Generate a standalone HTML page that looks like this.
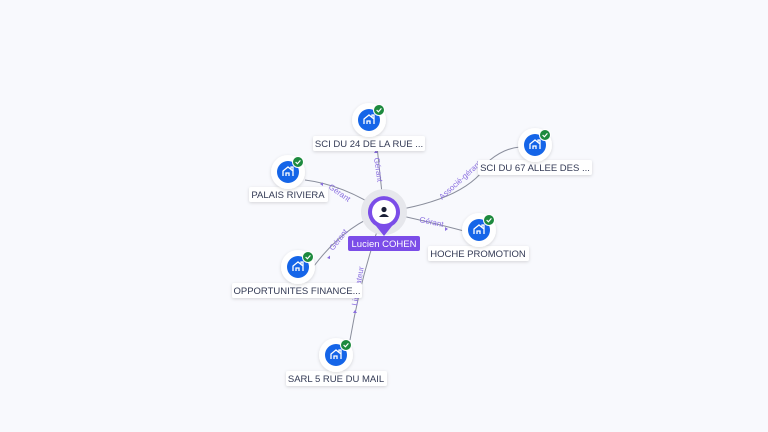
<!DOCTYPE html>
<html><head><meta charset="utf-8"><style>
html,body{margin:0;padding:0;background:#f8f9fd;width:768px;height:432px;overflow:hidden}
svg{display:block;font-family:"Liberation Sans",sans-serif}
.lb{font-size:9.5px;fill:#333a55}
.el{font-size:8px;fill:#8a6ee0}
</style></head><body>
<svg width="768" height="432" viewBox="0 0 768 432">
<defs>
<filter id="sh" x="-50%" y="-50%" width="200%" height="200%"><feDropShadow dx="0" dy="1" stdDeviation="1.5" flood-color="#000" flood-opacity="0.15"/></filter>
<g id="node">
<circle r="17" fill="#fff" filter="url(#sh)"/>
<circle r="11" fill="#1565e8"/>
<path d="M-5 4 V-1 L0 -5 L5 -1 V4 M-2 4 V1 H1 V4 M3 -3 V-5 H5 V4" fill="none" stroke="#fff" stroke-width="1.3"/>
<circle cx="10" cy="-10" r="5.5" fill="#1d8a3e" stroke="#fff" stroke-width="1"/>
<path d="M7.6 -10 L9.4 -8.2 L12.4 -11.6" fill="none" stroke="#fff" stroke-width="1.2"/>
</g>
</defs>
<g fill="none" stroke="#8a8e9c" stroke-width="1">
<path d="M384 212 Q380 175 376 137"/>
<path d="M384 212 Q345 185 305 180"/>
<path d="M384 212 Q470 200 490 160 Q505 148 520 147"/>
<path d="M384 212 Q430 222 464 231"/>
<path d="M384 212 Q345 225 314 266"/>
<path d="M384 212 Q362 270 350 340"/>
</g>
<g fill="#8a6ee0">
<path d="M376 150 l-2 3 h4z"/>
<path d="M320 184 l3 -1.5 v3.5z"/>
<path d="M448 229 l-3 -2 v4z"/>
<path d="M327 258 l3 -2.5 v3.5z"/>
<path d="M355 310 l-2 3 h4z"/>
</g>
<text class="el" transform="translate(374,158) rotate(82)">Gérant</text>
<text class="el" transform="translate(328,188) rotate(35)">Gérant</text>
<text class="el" transform="translate(442,200) rotate(-42)">Associé-gérant</text>
<text class="el" transform="translate(419,222) rotate(12)">Gérant</text>
<text class="el" transform="translate(333,251) rotate(-52)">Gérant</text>
<text class="el" transform="translate(357,306) rotate(-80)">Liquidateur</text>
<circle cx="384" cy="212" r="23" fill="#e6e7ec"/>
<path d="M384 236 L376 226 A16 16 0 1 1 392 226 Z" fill="#7b4de8"/>
<circle cx="384" cy="212" r="12" fill="#fff"/>
<circle cx="384" cy="209.5" r="2.6" fill="#1a1f36"/>
<path d="M379 217 Q384 211 389 217 Z" fill="#1a1f36"/>
<rect x="348" y="236" width="72" height="15" rx="2" fill="#7b4de8"/>
<text x="384" y="247" text-anchor="middle" font-size="9.5" fill="#fff">Lucien COHEN</text>
<g>
<rect x="313" y="136" width="112" height="15" rx="2" fill="#fff" filter="url(#sh)"/><text class="lb" x="369" y="147" text-anchor="middle">SCI DU 24 DE LA RUE ...</text>
<use href="#node" x="369" y="120"/>
<rect x="249" y="187" width="79" height="15" rx="2" fill="#fff" filter="url(#sh)"/><text class="lb" x="288" y="198" text-anchor="middle">PALAIS RIVIERA</text>
<use href="#node" x="288" y="172"/>
<rect x="478" y="160" width="114" height="15" rx="2" fill="#fff" filter="url(#sh)"/><text class="lb" x="535" y="171" text-anchor="middle">SCI DU 67 ALLEE DES ...</text>
<use href="#node" x="535" y="145"/>
<rect x="428" y="246" width="101" height="15" rx="2" fill="#fff" filter="url(#sh)"/><text class="lb" x="478" y="257" text-anchor="middle">HOCHE PROMOTION</text>
<use href="#node" x="479" y="230"/>
<rect x="232" y="283" width="130" height="15" rx="2" fill="#fff" filter="url(#sh)"/><text class="lb" x="297" y="294" text-anchor="middle">OPPORTUNITES FINANCE...</text>
<use href="#node" x="298" y="267"/>
<rect x="286" y="371" width="101" height="15" rx="2" fill="#fff" filter="url(#sh)"/><text class="lb" x="336" y="382" text-anchor="middle">SARL 5 RUE DU MAIL</text>
<use href="#node" x="336" y="355"/>
</g>
</svg>
</body></html>
